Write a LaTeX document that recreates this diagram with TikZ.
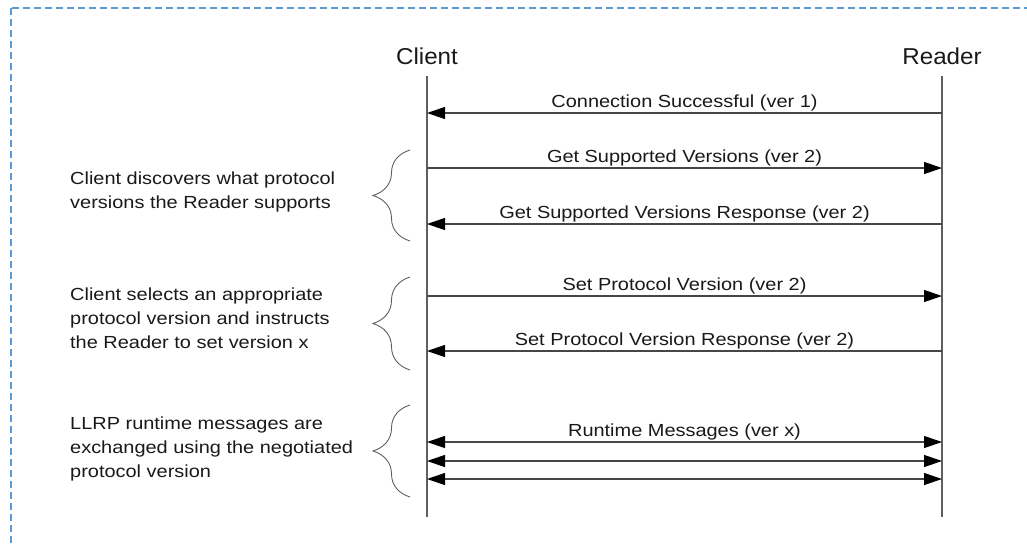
\documentclass[tikz,border=0pt]{standalone}
\usepackage{fontspec}
\setmainfont{Liberation Sans}
\newfontfamily\headfont[FakeStretch=1.05]{Liberation Sans}
\newfontfamily\widefont[FakeStretch=1.14]{Liberation Sans}
\usetikzlibrary{arrows.meta,decorations.pathreplacing}
\definecolor{frameblue}{RGB}{91,155,213}
\definecolor{ink}{RGB}{25,25,25}
\definecolor{lifegray}{RGB}{95,95,95}
\definecolor{msggray}{RGB}{70,70,70}
\tikzset{
  head/.style={font=\headfont\fontsize{23}{27}\selectfont, text=ink, anchor=base, inner sep=0pt},
  lifeline/.style={draw=lifegray, line width=1.3pt},
  msg/.style={draw=msggray, line width=1.2pt, -{Triangle[length=18pt,width=12pt,color=black]}},
  bimsg/.style={draw=msggray, line width=1.2pt, {Triangle[length=18pt,width=12pt,color=black]}-{Triangle[length=18pt,width=12pt,color=black]}},
  msglabel/.style={font=\widefont\fontsize{17.5}{20}\selectfont, text=ink, anchor=base, inner sep=0pt},
  note/.style={font=\widefont\fontsize{17.5}{23.8}\selectfont, text=ink, align=left, anchor=north west, inner sep=0pt},
  bracestyle/.style={draw=lifegray, line width=0.9pt, decorate, decoration={brace, amplitude=37pt, aspect=0.5}},
}
\begin{document}
\begin{tikzpicture}[x=1pt,y=-1pt]
\useasboundingbox (0,0) rectangle (1027,544);
\clip (0,0) rectangle (1027,544);
\draw[frameblue, line width=1.8pt, dash pattern=on 7pt off 4pt] (11,8) rectangle (1060,580);

% headers
\node[head] (client) at (427,64) {Client};
\node[head] (reader) at (942,64) {Reader};
\coordinate (ctop) at (427,76);
\coordinate (cbot) at (427,517);
\coordinate (rtop) at (942,76);
\coordinate (rbot) at (942,517);
\draw[lifeline] (ctop) -- (cbot);
\draw[lifeline] (rtop) -- (rbot);

% message end points
\foreach \i/\y in {1/113,2/168,3/224,4/296,5/351,6/442,7/461,8/479}{
  \coordinate (c\i) at (427,\y);
  \coordinate (r\i) at (942,\y);
}
\draw[msg] (r1) -- (c1) node[msglabel, pos=0.5, yshift=6pt] (l1) {Connection Successful (ver 1)};
\draw[msg] (c2) -- (r2) node[msglabel, pos=0.5, yshift=6pt] (l2) {Get Supported Versions (ver 2)};
\draw[msg] (r3) -- (c3) node[msglabel, pos=0.5, yshift=6pt] (l3) {Get Supported Versions Response (ver 2)};
\draw[msg] (c4) -- (r4) node[msglabel, pos=0.5, yshift=6pt] (l4) {Set Protocol Version (ver 2)};
\draw[msg] (r5) -- (c5) node[msglabel, pos=0.5, yshift=6pt] (l5) {Set Protocol Version Response (ver 2)};
\draw[bimsg] (c6) -- (r6) node[msglabel, pos=0.5, yshift=6pt] (l6) {Runtime Messages (ver x)};
\draw[bimsg] (c7) -- (r7);
\draw[bimsg] (c8) -- (r8);

% braces
\coordinate (b1b) at (410,241); \coordinate (b1t) at (410,150);
\coordinate (b2b) at (410,370); \coordinate (b2t) at (410,277);
\coordinate (b3b) at (410,497); \coordinate (b3t) at (410,405);
\draw[bracestyle] (b1b) -- (b1t);
\draw[bracestyle] (b2b) -- (b2t);
\draw[bracestyle] (b3b) -- (b3t);

% notes
\node[note] (n1) at (70,172) {Client discovers what protocol\\versions the Reader supports};
\node[note] (n2) at (70,288) {Client selects an appropriate\\protocol version and instructs\\the Reader to set version x};
\node[note] (n3) at (70,417) {LLRP runtime messages are\\exchanged using the negotiated\\protocol version};
\end{tikzpicture}
\end{document}
